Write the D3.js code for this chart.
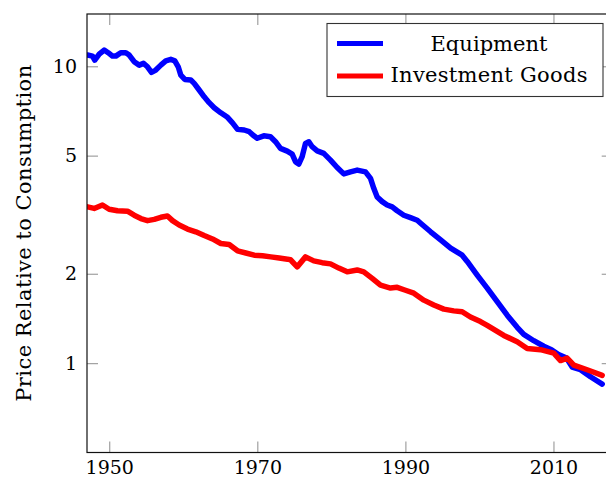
<!DOCTYPE html>
<html>
<head>
<meta charset="utf-8">
<script src="https://cdn.jsdelivr.net/npm/d3@7"></script>
<style>
  html, body { margin: 0; padding: 0; background: #fff; }
  svg { display: block; }
  text { font-family: "DejaVu Serif", serif; fill: #000; }
</style>
</head>
<body>
<svg id="chart" width="606" height="481"></svg>
<script>
// ---- data ----
const equipmentYears = [1947.07,1947.75,1948.05,1948.65,1949.32,1949.86,1950.44,1950.89,1951.56,1952.24,1952.70,1953.37,1954.05,1954.63,1955.17,1955.71,1956.29,1956.97,1957.64,1958.32,1958.86,1959.32,1959.67,1960.21,1961.02,1961.48,1962.15,1962.83,1963.50,1964.18,1965.07,1965.98,1966.65,1967.33,1968.23,1968.91,1969.58,1969.99,1970.88,1971.78,1972.46,1973.13,1974.04,1974.71,1975.16,1975.60,1976.06,1976.51,1976.96,1977.41,1978.09,1978.98,1979.89,1980.79,1981.68,1982.59,1983.49,1984.61,1985.29,1985.73,1986.19,1986.87,1987.54,1988.22,1988.89,1989.79,1990.69,1991.60,1992.06,1993.41,1994.76,1996.11,1997.67,1998.35,1999.70,2001.05,2002.40,2003.75,2005.10,2005.99,2007.34,2008.69,2009.73,2010.68,2011.76,2012.53,2013.65,2015.00,2016.58];
const equipmentValues = [10.91,10.82,10.49,10.99,11.34,11.11,10.82,10.82,11.11,11.11,10.91,10.36,10.09,10.23,9.96,9.54,9.71,10.09,10.43,10.55,10.43,9.96,9.34,9.03,8.99,8.76,8.32,7.89,7.54,7.25,6.97,6.73,6.45,6.13,6.10,6.02,5.82,5.72,5.83,5.79,5.57,5.29,5.18,5.06,4.77,4.68,4.96,5.50,5.57,5.36,5.19,5.09,4.83,4.56,4.34,4.41,4.47,4.41,4.19,3.88,3.63,3.50,3.41,3.36,3.26,3.15,3.09,3.03,2.96,2.77,2.60,2.44,2.31,2.20,1.98,1.79,1.61,1.45,1.32,1.25,1.19,1.14,1.11,1.07,1.04,0.97,0.95,0.90,0.85];

const investmentYears = [1947.07,1947.97,1949.09,1949.99,1951.12,1952.47,1953.37,1954.27,1955.17,1956.08,1956.97,1957.87,1958.55,1959.45,1960.57,1961.69,1962.83,1963.95,1965.07,1966.20,1967.33,1968.45,1969.58,1970.70,1971.82,1972.96,1974.08,1974.48,1975.39,1976.51,1977.63,1978.76,1979.89,1981.01,1982.14,1983.49,1984.38,1985.52,1986.64,1987.99,1988.89,1990.01,1991.14,1992.49,1993.84,1995.19,1996.54,1997.67,1998.79,2000.14,2001.05,2003.29,2005.10,2006.45,2008.25,2010.04,2010.95,2011.85,2012.75,2014.55,2016.58];
const investmentValues = [3.36,3.32,3.41,3.30,3.26,3.25,3.15,3.07,3.02,3.05,3.10,3.13,3.02,2.92,2.83,2.77,2.69,2.62,2.53,2.51,2.39,2.35,2.31,2.30,2.28,2.26,2.24,2.23,2.11,2.28,2.21,2.18,2.16,2.09,2.03,2.06,2.03,1.93,1.83,1.79,1.80,1.76,1.72,1.63,1.57,1.52,1.50,1.49,1.43,1.38,1.34,1.24,1.18,1.12,1.11,1.08,1.02,1.04,0.985,0.95,0.91];

const xTicks = [1950, 1970, 1990, 2010];
const yTicks = [1, 2, 5, 10];
const seriesNames = ["Equipment", "Investment Goods"];
const seriesColors = ["#0000ff", "#ff0000"];
const yLabel = "Price Relative to Consumption";

// ---- layout ----
const svg = d3.select("#chart");
const pLeft = 87, pRight = 612.7, pTop = 14, pBottom = 452.5;
const fontFamily = "'DejaVu Serif', serif";

const x = d3.scaleLinear().domain([1947, 2018]).range([pLeft, pRight]);
const y = d3.scaleLog().domain([0.5, 15]).range([pBottom, pTop]);

svg.append("rect").attr("width", 606).attr("height", 481).attr("fill", "#fff");

const tickColor = "#a0a0a0";
const tickLen = 11;

const gx = svg.append("g").attr("transform", `translate(0,${pBottom})`)
  .call(d3.axisBottom(x).tickValues(xTicks).tickFormat(d3.format("d"))
        .tickSizeInner(-tickLen).tickSizeOuter(0).tickPadding(8));
const gxt = svg.append("g").attr("transform", `translate(0,${pTop})`)
  .call(d3.axisTop(x).tickValues(xTicks).tickFormat("")
        .tickSizeInner(-tickLen).tickSizeOuter(0));
const gy = svg.append("g").attr("transform", `translate(${pLeft},0)`)
  .call(d3.axisLeft(y).tickValues(yTicks).tickFormat(d3.format("d"))
        .tickSizeInner(-tickLen).tickSizeOuter(0).tickPadding(10));
const gyr = svg.append("g").attr("transform", `translate(${pRight},0)`)
  .call(d3.axisRight(y).tickValues(yTicks).tickFormat("")
        .tickSizeInner(-tickLen).tickSizeOuter(0));

[gx, gxt, gy, gyr].forEach(g => {
  g.attr("font-family", fontFamily);
  g.select(".domain").remove();
  g.selectAll(".tick line").attr("stroke", tickColor).attr("stroke-width", 1.2);
  g.selectAll(".tick text").attr("font-family", fontFamily).attr("font-size", 19).attr("fill", "#000");
});

const line = d3.line().x(d => x(d[0])).y(d => y(d[1]));
const series = [
  d3.zip(equipmentYears, equipmentValues),
  d3.zip(investmentYears, investmentValues)
];

svg.append("clipPath").attr("id", "plotclip")
  .append("rect").attr("x", pLeft).attr("y", pTop).attr("width", pRight - pLeft).attr("height", pBottom - pTop);

const plot = svg.append("g").attr("clip-path", "url(#plotclip)");
series.forEach((s, i) => {
  plot.append("path").datum(s)
    .attr("d", line)
    .attr("fill", "none")
    .attr("stroke", seriesColors[i])
    .attr("stroke-width", 5.5)
    .attr("stroke-linejoin", "round")
    .attr("stroke-linecap", "round");
});

svg.append("rect")
  .attr("x", pLeft).attr("y", pTop).attr("width", pRight - pLeft).attr("height", pBottom - pTop)
  .attr("fill", "none").attr("stroke", "#111").attr("stroke-width", 1.2);

svg.append("text")
  .attr("transform", `translate(30.5,${(pTop + pBottom) / 2}) rotate(-90)`)
  .attr("text-anchor", "middle")
  .attr("font-family", fontFamily)
  .attr("font-size", 21)
  .attr("textLength", 337)
  .attr("lengthAdjust", "spacing")
  .text(yLabel);

const legend = svg.append("g");
legend.append("rect")
  .attr("x", 327).attr("y", 23.5).attr("width", 276).attr("height", 73)
  .attr("fill", "#fff").attr("stroke", "#333").attr("stroke-width", 1.1);
const legendRows = [
  { lineY: 43.5, textY: 50.5, textLen: 117 },
  { lineY: 76, textY: 82, textLen: 197 }
];
seriesNames.forEach((name, i) => {
  const r = legendRows[i];
  legend.append("line")
    .attr("x1", 337).attr("x2", 383)
    .attr("y1", r.lineY).attr("y2", r.lineY)
    .attr("stroke", seriesColors[i]).attr("stroke-width", 5);
  legend.append("text")
    .attr("x", 489).attr("y", r.textY)
    .attr("text-anchor", "middle")
    .attr("font-family", fontFamily)
    .attr("font-size", 21)
    .attr("textLength", r.textLen)
    .attr("lengthAdjust", "spacing")
    .text(name);
});
</script>
</body>
</html>
